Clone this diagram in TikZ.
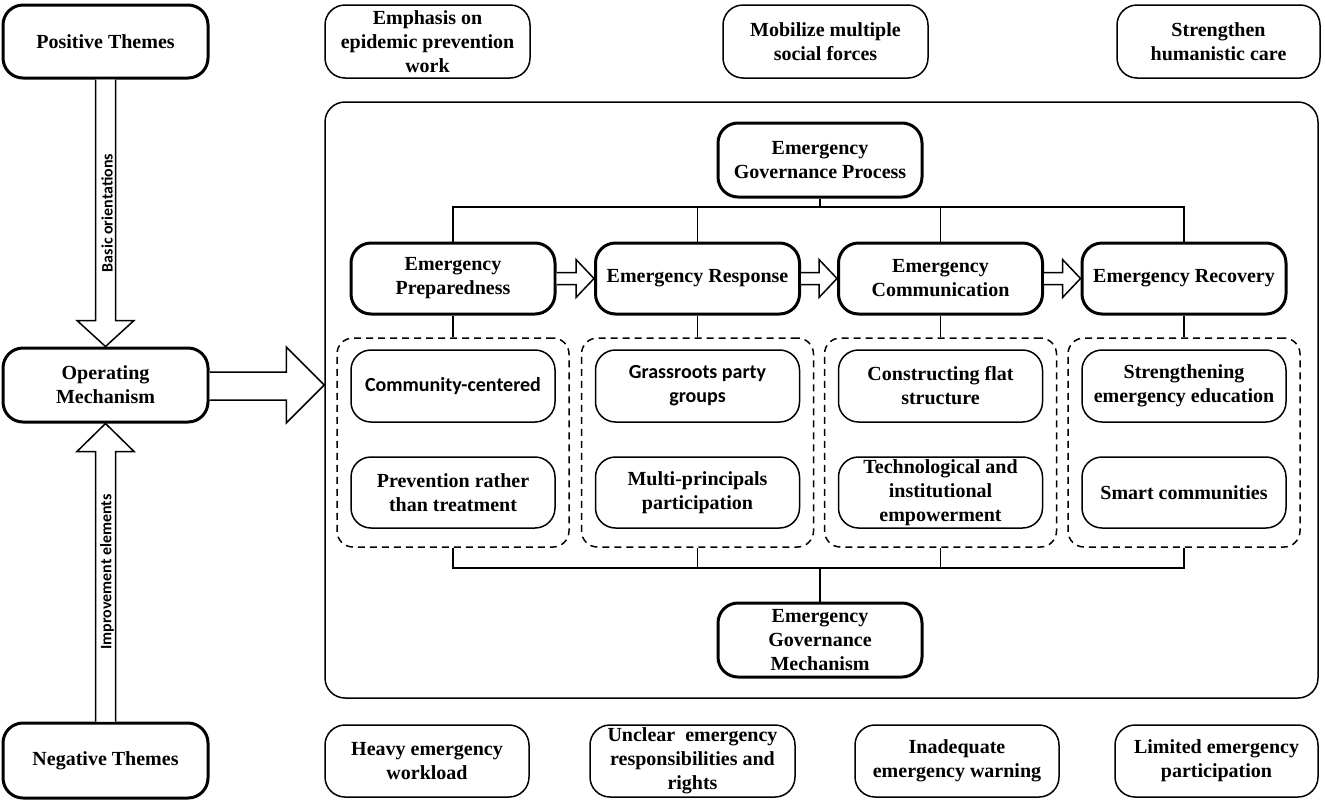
\documentclass[tikz,border=0pt]{standalone}
\usepackage{fontspec}
\setmainfont{Liberation Serif}
\newfontfamily\calfont{Carlito}
\usetikzlibrary{calc}
\tikzset{
  base/.style={draw, rounded corners=20pt, align=center, inner sep=0pt,
    font=\fontsize{20}{24}\selectfont\bfseries, line width=1.5pt},
  thickbox/.style={base, line width=3pt},
  thinbox/.style={base},
  sansbox/.style={base, font=\fontsize{20}{24}\selectfont\calfont\bfseries},
  grp/.style={draw, dash pattern=on 7pt off 5pt, rounded corners=16pt, line width=1.5pt},
  conn/.style={line width=1.5pt},
  blockarrow/.style={draw, line width=1.5pt, fill=white, line join=miter},
  sidelabel/.style={rotate=90, inner sep=0pt, font=\fontsize{16}{19}\selectfont\calfont\bfseries}
}
\begin{document}
\begin{tikzpicture}[x=1pt,y=-1pt]
\fill[white] (0,0) rectangle (1325,801);
\useasboundingbox (0,0) rectangle (1325,801);

% container
\node[draw, rounded corners=20pt, line width=1.5pt, minimum width=993pt, minimum height=596pt] (frame) at (821.5,400) {};

% left column
\node[thickbox, minimum width=205pt, minimum height=73pt] (pos) at (105.5,41.5) {Positive Themes};
\node[thickbox, minimum width=205pt, minimum height=74pt] (op) at (105.5,385) {Operating\\Mechanism};
\node[thickbox, minimum width=205pt, minimum height=75pt] (neg) at (105.5,760.5) {Negative Themes};

% top row
\node[thinbox, minimum width=205pt, minimum height=73pt] (t1) at (427.5,41.5) {Emphasis on\\epidemic prevention\\work};
\node[thinbox, minimum width=205pt, minimum height=73pt] (t2) at (825.5,41.5) {Mobilize multiple\\social forces};
\node[thinbox, minimum width=203pt, minimum height=73pt] (t3) at (1218.5,41.5) {Strengthen\\humanistic care};

% bottom row
\node[thinbox, minimum width=204pt, minimum height=72pt] (b1) at (427,761) {Heavy emergency\\workload};
\node[thinbox, minimum width=205pt, minimum height=72pt] (b2) at (692.5,761) {Unclear\ \ emergency\\responsibilities and\\rights};
\node[thinbox, minimum width=204pt, minimum height=72pt] (b3) at (957,761) {Inadequate\\emergency warning};
\node[thinbox, minimum width=203pt, minimum height=72pt] (b4) at (1216.5,761) {Limited emergency\\participation};

% process and mechanism
\node[thickbox, minimum width=204pt, minimum height=74pt] (proc) at (820,160) {Emergency\\Governance Process};
\node[thickbox, minimum width=204pt, minimum height=74pt] (mech) at (820,640) {Emergency\\Governance\\Mechanism};

% stages
\node[thickbox, minimum width=204pt, minimum height=71pt] (prep) at (453,278.5) {Emergency\\Preparedness};
\node[thickbox, minimum width=204pt, minimum height=71pt] (resp) at (697.5,278.5) {Emergency Response};
\node[thickbox, minimum width=204pt, minimum height=71pt] (comm) at (940.5,278.5) {Emergency\\Communication};
\node[thickbox, minimum width=204pt, minimum height=71pt] (rec) at (1184,278.5) {Emergency Recovery};

% dashed groups
\node[grp, minimum width=232pt, minimum height=209pt] (g1) at (453,442.5) {};
\node[grp, minimum width=232pt, minimum height=209pt] (g2) at (697.5,442.5) {};
\node[grp, minimum width=232pt, minimum height=209pt] (g3) at (940.5,442.5) {};
\node[grp, minimum width=232pt, minimum height=209pt] (g4) at (1184,442.5) {};

% inner boxes
\node[sansbox, minimum width=204pt, minimum height=72pt] (i11) at (453,386) {Community-centered};
\node[thinbox, minimum width=204pt, minimum height=71pt] (i12) at (453,492.5) {Prevention rather\\than treatment};
\node[sansbox, minimum width=204pt, minimum height=72pt] (i21) at (697.5,386) {Grassroots party\\groups};
\node[thinbox, minimum width=204pt, minimum height=71pt] (i22) at (697.5,492.5) {Multi-principals\\participation};
\node[thinbox, minimum width=204pt, minimum height=72pt] (i31) at (940.5,386) {Constructing flat\\structure};
\node[thinbox, minimum width=204pt, minimum height=71pt] (i32) at (940.5,492.5) {Technological and\\institutional\\empowerment};
\node[thinbox, minimum width=204pt, minimum height=72pt] (i41) at (1184,386) {Strengthening\\emergency education};
\node[thinbox, minimum width=204pt, minimum height=71pt] (i42) at (1184,492.5) {Smart communities};

% tree connectors
\coordinate (hb) at (820,207);
\coordinate (hb2) at (820,568);
\draw[conn] (proc.south) -- (hb);
\draw[conn] (prep.north) -- (prep.north |- hb) -- (rec.north |- hb) -- (rec.north);
\draw[conn] (resp.north) -- (resp.north |- hb);
\draw[conn] (comm.north) -- (comm.north |- hb);
\draw[conn] (prep.south) -- (g1.north);
\draw[conn] (resp.south) -- (g2.north);
\draw[conn] (comm.south) -- (g3.north);
\draw[conn] (rec.south) -- (g4.north);
\draw[conn] (g1.south) -- (g1.south |- hb2) -- (g4.south |- hb2) -- (g4.south);
\draw[conn] (g2.south) -- (g2.south |- hb2);
\draw[conn] (g3.south) -- (g3.south |- hb2);
\draw[conn] (mech.north) -- (hb2);

% stage block arrows
\foreach \a/\b in {prep/resp, resp/comm, comm/rec}{
  \draw[blockarrow] ($(\a.east)+(0,-6)$) -- ($(\b.west)+(-18,-6)$) -- ($(\b.west)+(-18,-19)$)
    -- (\b.west) -- ($(\b.west)+(-18,19)$) -- ($(\b.west)+(-18,6)$) -- ($(\a.east)+(0,6)$);
}

% left block arrows
\draw[blockarrow] ($(pos.south)+(-10,0)$) -- ($(op.north)+(-10,-26)$) -- ($(op.north)+(-28.5,-26)$)
  -- (op.north) -- ($(op.north)+(28.5,-26)$) -- ($(op.north)+(10,-26)$) -- ($(pos.south)+(10,0)$);
\draw[blockarrow] ($(neg.north)+(-10,0)$) -- ($(op.south)+(-10,28)$) -- ($(op.south)+(-28.5,28)$)
  -- (op.south) -- ($(op.south)+(28.5,28)$) -- ($(op.south)+(10,28)$) -- ($(neg.north)+(10,0)$);
\coordinate (optip) at (frame.west |- op.east);
\draw[blockarrow] ($(op.east)+(0,-13)$) -- ($(optip)+(-38,-13)$) -- ($(optip)+(-38,-38)$)
  -- (optip) -- ($(optip)+(-38,38)$) -- ($(optip)+(-38,15)$) -- ($(op.east)+(0,15)$);

% side labels
\node[sidelabel] (lab1) at (107,213) {Basic orientations};
\node[sidelabel] (lab2) at (107,572) {Improvement elements};
\end{tikzpicture}
\end{document}
